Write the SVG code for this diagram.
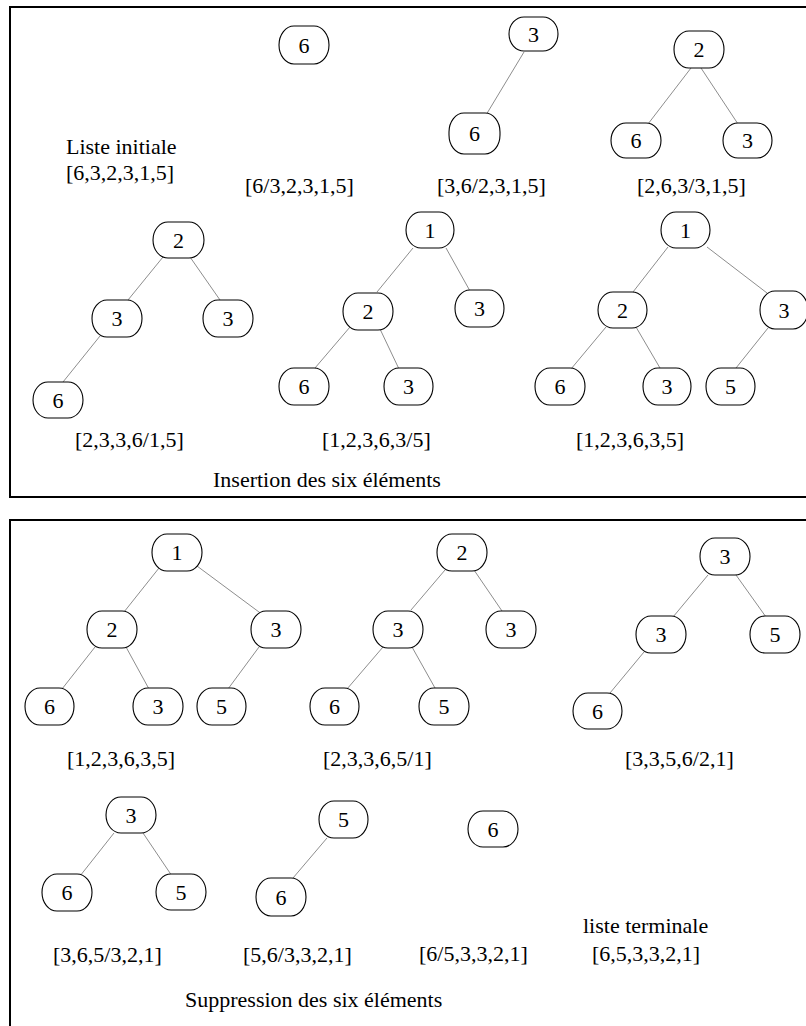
<svg xmlns="http://www.w3.org/2000/svg" width="806" height="1026" viewBox="0 0 806 1026">
<style>
.n rect{fill:#fff;stroke:#000;stroke-width:1.1;rx:15px;ry:19px}
.n text,.t{font-family:"Liberation Serif","Times New Roman",serif;font-size:22px;fill:#000}
.n text{text-anchor:middle}
.e line{stroke:#808080;stroke-width:0.9}
.f{fill:none;stroke:#000;stroke-width:2}
</style>
<rect width="806" height="1026" fill="#fff"/>
<rect class="f" x="10" y="7" width="810" height="490"/>
<rect class="f" x="10" y="520" width="810" height="520"/>
<g class="e" id="connectors">
<line x1="524" y1="52" x2="486" y2="115"/>
<line x1="691" y1="68" x2="648" y2="124"/>
<line x1="701" y1="68" x2="738" y2="124"/>
<line x1="163" y1="257" x2="128" y2="300"/>
<line x1="190" y1="257" x2="220" y2="300"/>
<line x1="100" y1="336" x2="63" y2="382"/>
<line x1="413" y1="248" x2="377" y2="292"/>
<line x1="446" y1="248" x2="470" y2="291"/>
<line x1="350" y1="327" x2="315" y2="368"/>
<line x1="380" y1="329" x2="399" y2="369"/>
<line x1="668" y1="247" x2="633" y2="292"/>
<line x1="707" y1="247" x2="767" y2="293"/>
<line x1="606" y1="327" x2="571" y2="369"/>
<line x1="636" y1="327" x2="660" y2="368"/>
<line x1="768" y1="328" x2="736" y2="368"/>
<line x1="159" y1="568" x2="124" y2="612"/>
<line x1="197" y1="566" x2="263" y2="615"/>
<line x1="95" y1="647" x2="62" y2="689"/>
<line x1="126" y1="647" x2="149" y2="689"/>
<line x1="259" y1="647" x2="228" y2="689"/>
<line x1="445" y1="570" x2="411" y2="610"/>
<line x1="474" y1="570" x2="502" y2="611"/>
<line x1="383" y1="647" x2="347" y2="689"/>
<line x1="412" y1="647" x2="435" y2="688"/>
<line x1="708" y1="575" x2="673" y2="617"/>
<line x1="736" y1="575" x2="766" y2="617"/>
<line x1="644" y1="652" x2="610" y2="693"/>
<line x1="114" y1="833" x2="80" y2="876"/>
<line x1="143" y1="833" x2="172" y2="876"/>
<line x1="327" y1="838" x2="293" y2="878"/>
</g>
<g class="n" id="a1"><rect x="279" y="26" width="50" height="38"/><text x="304" y="53">6</text></g>
<g class="n" id="b1"><rect x="509" y="17" width="49" height="34"/><text x="533.5" y="42">3</text></g>
<g class="n" id="b2"><rect x="449" y="113" width="51" height="41"/><text x="474.5" y="141">6</text></g>
<g class="n" id="c1"><rect x="674" y="31" width="50" height="37"/><text x="699" y="57">2</text></g>
<g class="n" id="c2"><rect x="611" y="123" width="50" height="35"/><text x="636" y="148">6</text></g>
<g class="n" id="c3"><rect x="723" y="123" width="49" height="35"/><text x="747.5" y="148">3</text></g>
<g class="n" id="d1"><rect x="153" y="222" width="51" height="36"/><text x="178.5" y="248">2</text></g>
<g class="n" id="d2"><rect x="92" y="300" width="50" height="37"/><text x="117" y="326">3</text></g>
<g class="n" id="d3"><rect x="203" y="300" width="50" height="37"/><text x="228" y="326">3</text></g>
<g class="n" id="d4"><rect x="33" y="382" width="50" height="36"/><text x="58" y="408">6</text></g>
<g class="n" id="e1"><rect x="406" y="212" width="48" height="36"/><text x="430" y="238">1</text></g>
<g class="n" id="e2"><rect x="343" y="293" width="50" height="37"/><text x="368" y="319">2</text></g>
<g class="n" id="e3"><rect x="455" y="290" width="49" height="37"/><text x="479.5" y="316">3</text></g>
<g class="n" id="e4"><rect x="279" y="368" width="50" height="37"/><text x="304" y="394">6</text></g>
<g class="n" id="e5"><rect x="384" y="368" width="49" height="37"/><text x="408.5" y="394">3</text></g>
<g class="n" id="f1"><rect x="661" y="212" width="49" height="36"/><text x="685.5" y="238">1</text></g>
<g class="n" id="f2"><rect x="598" y="292" width="49" height="36"/><text x="622.5" y="318">2</text></g>
<g class="n" id="f3"><rect x="760" y="291" width="48" height="38"/><text x="784" y="318">3</text></g>
<g class="n" id="f4"><rect x="535" y="368" width="50" height="37"/><text x="560" y="394">6</text></g>
<g class="n" id="f5"><rect x="643" y="368" width="48" height="37"/><text x="667" y="394">3</text></g>
<g class="n" id="f6"><rect x="706" y="368" width="49" height="37"/><text x="730.5" y="394">5</text></g>
<g class="n" id="g1"><rect x="152" y="534" width="50" height="37"/><text x="177" y="560">1</text></g>
<g class="n" id="g2"><rect x="87" y="611" width="50" height="37"/><text x="112" y="637">2</text></g>
<g class="n" id="g3"><rect x="251" y="611" width="50" height="37"/><text x="276" y="637">3</text></g>
<g class="n" id="g4"><rect x="25" y="688" width="49" height="37"/><text x="49.5" y="714">6</text></g>
<g class="n" id="g5"><rect x="133" y="688" width="50" height="37"/><text x="158" y="714">3</text></g>
<g class="n" id="g6"><rect x="197" y="688" width="49" height="37"/><text x="221.5" y="714">5</text></g>
<g class="n" id="h1"><rect x="437" y="534" width="50" height="37"/><text x="462" y="560">2</text></g>
<g class="n" id="h2"><rect x="373" y="611" width="50" height="37"/><text x="398" y="637">3</text></g>
<g class="n" id="h3"><rect x="486" y="611" width="50" height="37"/><text x="511" y="637">3</text></g>
<g class="n" id="h4"><rect x="310" y="688" width="49" height="37"/><text x="334.5" y="714">6</text></g>
<g class="n" id="h5"><rect x="419" y="688" width="50" height="37"/><text x="444" y="714">5</text></g>
<g class="n" id="i1"><rect x="700" y="538" width="50" height="37"/><text x="725" y="564">3</text></g>
<g class="n" id="i2"><rect x="636" y="616" width="50" height="37"/><text x="661" y="642">3</text></g>
<g class="n" id="i3"><rect x="750" y="616" width="50" height="37"/><text x="775" y="642">5</text></g>
<g class="n" id="i4"><rect x="573" y="693" width="49" height="36"/><text x="597.5" y="719">6</text></g>
<g class="n" id="j1"><rect x="106" y="797" width="50" height="36"/><text x="131" y="823">3</text></g>
<g class="n" id="j2"><rect x="42" y="874" width="50" height="37"/><text x="67" y="900">6</text></g>
<g class="n" id="j3"><rect x="156" y="874" width="50" height="36"/><text x="181" y="900">5</text></g>
<g class="n" id="k1"><rect x="319" y="801" width="49" height="37"/><text x="343.5" y="827">5</text></g>
<g class="n" id="k2"><rect x="256" y="878" width="50" height="38"/><text x="281" y="905">6</text></g>
<g class="n" id="l1"><rect x="468" y="811" width="50" height="36"/><text x="493" y="837">6</text></g>
<g id="labels">
<text class="t" x="66" y="154">Liste initiale</text>
<text class="t" x="66" y="180">[6,3,2,3,1,5]</text>
<text class="t" x="245" y="193">[6/3,2,3,1,5]</text>
<text class="t" x="437" y="193">[3,6/2,3,1,5]</text>
<text class="t" x="637" y="193">[2,6,3/3,1,5]</text>
<text class="t" x="75" y="447">[2,3,3,6/1,5]</text>
<text class="t" x="322" y="447">[1,2,3,6,3/5]</text>
<text class="t" x="576" y="447">[1,2,3,6,3,5]</text>
<text class="t" x="213" y="487">Insertion des six éléments</text>
<text class="t" x="67" y="766">[1,2,3,6,3,5]</text>
<text class="t" x="323" y="766">[2,3,3,6,5/1]</text>
<text class="t" x="625" y="766">[3,3,5,6/2,1]</text>
<text class="t" x="53" y="962">[3,6,5/3,2,1]</text>
<text class="t" x="243" y="962">[5,6/3,3,2,1]</text>
<text class="t" x="419" y="961">[6/5,3,3,2,1]</text>
<text class="t" x="583" y="933">liste terminale</text>
<text class="t" x="592" y="961">[6,5,3,3,2,1]</text>
<text class="t" x="185" y="1007">Suppression des six éléments</text>
</g>
</svg>
